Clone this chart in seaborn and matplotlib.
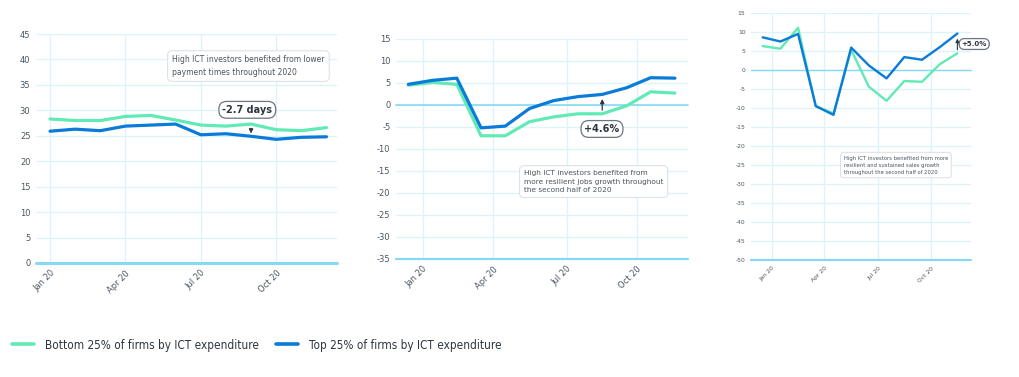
import numpy as np
import pandas as pd
import matplotlib
matplotlib.use("Agg")
import matplotlib.pyplot as plt
import seaborn as sns
from matplotlib import font_manager as fm
from matplotlib.lines import Line2D

sns.set_theme(style="white")

# ---------------- data ----------------
months = list(range(12))  # Jan..Dec 2020 (month index)
tick_labels = ["Jan 20", "Apr 20", "Jul 20", "Oct 20"]

# Panel 1: payment times (days)
p1_bottom = [28.3, 28.0, 28.0, 28.8, 29.0, 28.1, 27.1, 26.9, 27.3, 26.2, 26.0, 26.6]
p1_top = [25.9, 26.3, 26.0, 26.9, 27.1, 27.3, 25.2, 25.4, 24.9, 24.3, 24.7, 24.8]

# Panel 2: jobs growth (%)
p2_bottom = [4.5, 5.1, 4.7, -7.0, -7.0, -3.8, -2.7, -2.0, -2.0, -0.2, 3.0, 2.7]
p2_top = [4.7, 5.6, 6.1, -5.2, -4.8, -0.8, 1.0, 1.9, 2.4, 3.9, 6.2, 6.1]

# Panel 3: sales growth (%)
p3_bottom = [6.3, 5.6, 11.1, -9.5, -11.4, 5.3, -4.4, -8.1, -2.9, -3.1, 1.5, 4.4]
p3_top = [8.6, 7.5, 9.5, -9.5, -11.8, 5.9, 1.2, -2.2, 3.4, 2.7, 6.0, 9.6]

notes = [
    "High ICT investors benefited from lower\npayment times throughout 2020",
    "High ICT investors benefited from\nmore resilient jobs growth throughout\nthe second half of 2020",
    "High ICT investors benefited from more\nresilient and sustained sales growth\nthroughout the second half of 2020",
]
gap_labels = ["-2.7 days", "+4.6%", "+5.0%"]
legend_labels = ["Bottom 25% of firms by ICT expenditure", "Top 25% of firms by ICT expenditure"]

GREEN = "#62EAB4"
BLUE = "#0A7BD8"
GRID = "#DDF3FC"
AXLINE = "#86D9F6"
TXT = "#4A5560"

# pick a condensed / narrow font for the legend if one is installed
legend_prop = None
for f in fm.fontManager.ttflist:
    nm = f.name
    if (("Narrow" in nm or "Condensed" in nm or str(f.stretch) in ("condensed", "semi-condensed"))
            and f.style == "normal" and f.weight in (400, "normal", "regular")):
        legend_prop = fm.FontProperties(fname=f.fname)
        break
if legend_prop is None:
    legend_prop = fm.FontProperties(family="Roboto")

fig = plt.figure(figsize=(10.19, 3.77), dpi=100)
W, H = 1019, 377

panels = [
    dict(rect=[0.0353, 0.3024, 0.2954, 0.6074], ylim=(0, 45), yticks=np.arange(0, 46, 5),
         xlim=(-0.56, 11.42), xticks=[0, 3, 6, 9], b=p1_bottom, t=p1_top, lw=2.3,
         fs=6, zero_lines=[(0, 2.2)]),
    dict(rect=[0.3886, 0.3130, 0.2866, 0.5836], ylim=(-35, 15), yticks=np.arange(-35, 16, 5),
         xlim=(-0.51, 11.54), xticks=[0.59, 3.51, 6.53, 9.42], b=p2_bottom, t=p2_top, lw=2.3,
         fs=6, zero_lines=[(0, 1.2), (-35, 1.6)]),
    dict(rect=[0.7370, 0.3103, 0.2159, 0.6552], ylim=(-50, 15), yticks=np.arange(-50, 16, 5),
         xlim=(-0.66, 11.77), xticks=[0.51, 3.48, 6.53, 9.51], b=p3_bottom, t=p3_top, lw=1.7,
         fs=4.3, zero_lines=[(0, 1.0), (-50, 1.6)]),
]

axes = []
for p in panels:
    ax = fig.add_axes(p["rect"])
    axes.append(ax)
    df = pd.DataFrame({"month": months * 2,
                       "value": p["b"] + p["t"],
                       "group": [legend_labels[0]] * 12 + [legend_labels[1]] * 12})
    sns.lineplot(data=df, x="month", y="value", hue="group",
                 palette={legend_labels[0]: GREEN, legend_labels[1]: BLUE},
                 linewidth=p["lw"], ax=ax, legend=False, zorder=3)
    ax.set_xlim(*p["xlim"])
    ax.set_ylim(*p["ylim"])
    ax.set_xticks(p["xticks"])
    ax.set_xticklabels(tick_labels, rotation=45, ha="right", rotation_mode="anchor",
                       fontsize=p["fs"], color=TXT)
    ax.set_yticks(p["yticks"])
    ax.set_yticklabels([str(v) for v in p["yticks"]], fontsize=p["fs"], color=TXT)
    ax.tick_params(axis="both", length=0, pad=4)
    ax.set_xlabel("")
    ax.set_ylabel("")
    for s in ax.spines.values():
        s.set_visible(False)
    ax.grid(True, color=GRID, linewidth=0.9)
    ax.set_axisbelow(True)
    for yv, lw in p["zero_lines"]:
        ax.axhline(yv, color=AXLINE, linewidth=lw, zorder=2, clip_on=False)

note_box = dict(boxstyle="round,pad=0.6,rounding_size=0.6", fc="white", ec="#DCE3E8", lw=0.8)
pill = dict(boxstyle="round,pad=0.35,rounding_size=0.8", fc="white", ec="#6B7680", lw=0.9)
arrow = dict(arrowstyle="-|>", color="#2C3640", lw=0.9, mutation_scale=6)

# Panel 1 annotations
ax = axes[0]
ax.text(4.86, 38.7, notes[0], fontsize=5.5, color=TXT, ha="left", va="center",
        linespacing=1.5, bbox=note_box, zorder=5)
ax.text(7.85, 30.1, gap_labels[0], fontsize=7, fontweight="bold", color="#2C3640",
        ha="center", va="center", bbox=pill, zorder=5)
ax.annotate("", xy=(8, 24.9), xytext=(8, 27.0), arrowprops=arrow, zorder=5)

# Panel 2 annotations
ax = axes[1]
ax.text(4.77, -17.4, notes[1], fontsize=5.3, color=TXT, ha="left", va="center",
        linespacing=1.5, bbox=note_box, zorder=5)
ax.text(7.99, -5.45, gap_labels[1], fontsize=7, fontweight="bold", color="#2C3640",
        ha="center", va="center", bbox=pill, zorder=5)
ax.annotate("", xy=(8, 2.0), xytext=(8, -1.8), arrowprops=arrow, zorder=5)

# Panel 3 annotations
ax = axes[2]
ax.text(4.58, -25.0, notes[2], fontsize=3.8, color=TXT, ha="left", va="center",
        linespacing=1.5, bbox=note_box, zorder=5)
ax.text(11.95, 6.84, gap_labels[2], fontsize=5.0, fontweight="bold", color="#2C3640",
        ha="center", va="center", bbox=pill, zorder=5, clip_on=False)
ax.annotate("", xy=(11, 9.0), xytext=(11, 4.6),
            arrowprops=dict(arrowstyle="-|>", color="#2C3640", lw=0.8, mutation_scale=5),
            zorder=5, annotation_clip=False)

# ---- legend: size the font so the first label is ~214 px wide ----
renderer = fig.canvas.get_renderer()
probe = fig.text(0, 0, legend_labels[0], fontproperties=legend_prop, fontsize=10)
w10 = probe.get_window_extent(renderer).width
probe.remove()
lsize = min(11.5, 10 * 214.0 / w10)
lprop = legend_prop.copy()
lprop.set_size(lsize)
fpx = lsize * 100 / 72.0

for (h_color, lab, x0) in [(GREEN, legend_labels[0], 12), (BLUE, legend_labels[1], 276)]:
    fig.legend([Line2D([0], [0], color=h_color, lw=2.6)], [lab],
               loc="center left", bbox_to_anchor=(x0 / W, 1 - 345 / H),
               frameon=False, borderpad=0, borderaxespad=0,
               handlelength=22 / fpx, handletextpad=11 / fpx,
               prop=lprop, labelcolor="#2C3640")

fig.savefig("out.png", dpi=100, facecolor="white")
